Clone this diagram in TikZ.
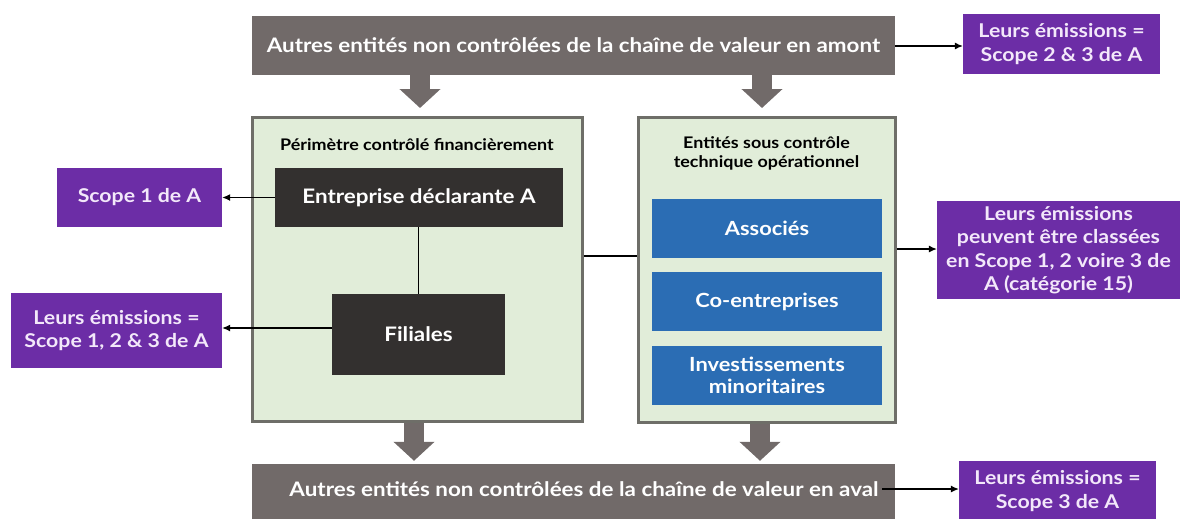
\documentclass[tikz,border=0pt]{standalone}
\usepackage{fontspec}
\setmainfont{Lato}[FakeStretch=1.12]
\usetikzlibrary{arrows.meta}
\definecolor{greybox}{HTML}{716A69}
\definecolor{darkbox}{HTML}{33302F}
\definecolor{bluebox}{HTML}{2B6DB4}
\definecolor{purplebox}{HTML}{6C2DA6}
\definecolor{greenfill}{HTML}{E1EDD9}
\definecolor{greenedge}{HTML}{6E6E68}
\definecolor{lavender}{HTML}{F3E8FA}
\begin{document}
\begin{tikzpicture}[x=1pt, y=-1pt,
    chainbox/.style={fill=greybox, text=white, minimum height=59pt, font=\fontsize{20}{24}\selectfont\bfseries},
    scopebox/.style={fill=purplebox, text=lavender, align=center, font=\fontsize{19}{23.5}\selectfont\bfseries},
    darknode/.style={fill=darkbox, text=white, font=\fontsize{20}{24}\selectfont\bfseries},
    bluenode/.style={fill=bluebox, text=white, align=center, minimum width=230pt, minimum height=59pt, font=\fontsize{19.5}{22}\selectfont\bfseries},
    perimeter/.style={draw=greenedge, fill=greenfill, line width=3pt},
    boxtitle/.style={align=center, font=\fontsize{16}{19}\selectfont\bfseries},
    bigarrow/.style={draw=greybox, line width=20pt, -{Triangle[width=40pt, length=19pt]}},
    thin/.style={line width=1.1pt, -{Latex[length=8pt, width=7pt]}}]
  \useasboundingbox (0,0) rectangle (1183,519);

  \node[chainbox, minimum width=643pt] (amont) at (573.5,45.5) {Autres entités non contrôlées de la chaîne de valeur en amont};
  \node[chainbox, minimum width=643pt, minimum height=56pt] (aval) at (573.5,492) {};
  \node[text=white, font=\fontsize{20}{24}\selectfont\bfseries] (avaltext) at (584,489) {Autres entités non contrôlées de la chaîne de valeur en aval};

  \node[perimeter, minimum width=330pt, minimum height=304pt] (fin) at (417,269.5) {};
  \node[perimeter, minimum width=257pt, minimum height=305pt] (ope) at (766.5,270) {};
  \node[boxtitle] (fintitle) at (417,145) {Périmètre contrôlé financièrement};
  \node[boxtitle] (opetitle) at (766.5,153.5) {Entités sous contrôle\\technique opérationnel};

  \node[darknode, minimum width=288pt, minimum height=59pt] (ent) at (419,197.5) {Entreprise déclarante A};
  \node[darknode, minimum width=173pt, minimum height=81pt] (fil) at (418.5,334.5) {Filiales};

  \node[bluenode] (assoc) at (767,228) {Associés};
  \node[bluenode] (coent) at (767,301.5) {Co-entreprises};
  \node[bluenode] (invest) at (767,375.5) {Investissements\\minoritaires};

  \node[scopebox, minimum width=197pt, minimum height=60pt] (s23) at (1061.5,44) {Leurs émissions =\\Scope 2 \& 3 de A};
  \node[scopebox, minimum width=165pt, minimum height=59pt] (s1) at (139.5,197.5) {Scope 1 de A};
  \node[scopebox, minimum width=211pt, minimum height=75pt] (s123) at (116.5,330.5) {Leurs émissions =\\Scope 1, 2 \& 3 de A};
  \node[scopebox, minimum width=243pt, minimum height=98pt] (s15) at (1058.5,250) {Leurs émissions\\peuvent être classées\\en Scope 1, 2 voire 3 de\\A (catégorie 15)};
  \node[scopebox, minimum width=197pt, minimum height=60pt] (s3) at (1057.5,491) {Leurs émissions =\\Scope 3 de A};

  \coordinate (link) at (610,256);

  \draw[bigarrow, shorten >=8pt] (amont.south -| 420,0) -- (fin.north -| 420,0);
  \draw[bigarrow, shorten >=8pt] (amont.south -| 762,0) -- (ope.north -| 762,0);
  \draw[bigarrow, shorten >=3pt] (fin.south -| 414,0) -- (aval.north -| 414,0);
  \draw[bigarrow, shorten >=3pt] (ope.south -| 760,0) -- (aval.north -| 760,0);

  \draw[line width=1.1pt] (ent.south -| fil.north) -- (fil.north);
  \draw[line width=1.1pt] (fin.east |- link) -- (ope.west |- link);
  \draw[thin] (ent.west) -- (s1.east |- ent.west);
  \draw[thin] (fil.west |- 0,328) -- (s123.east |- 0,328);
  \draw[thin] (amont.east |- 0,46) -- (s23.west |- 0,46);
  \draw[thin] (ope.east |- 0,249) -- (s15.west |- 0,249);
  \draw[thin] (avaltext.east) -- (s3.west |- avaltext.east);
\end{tikzpicture}
\end{document}
